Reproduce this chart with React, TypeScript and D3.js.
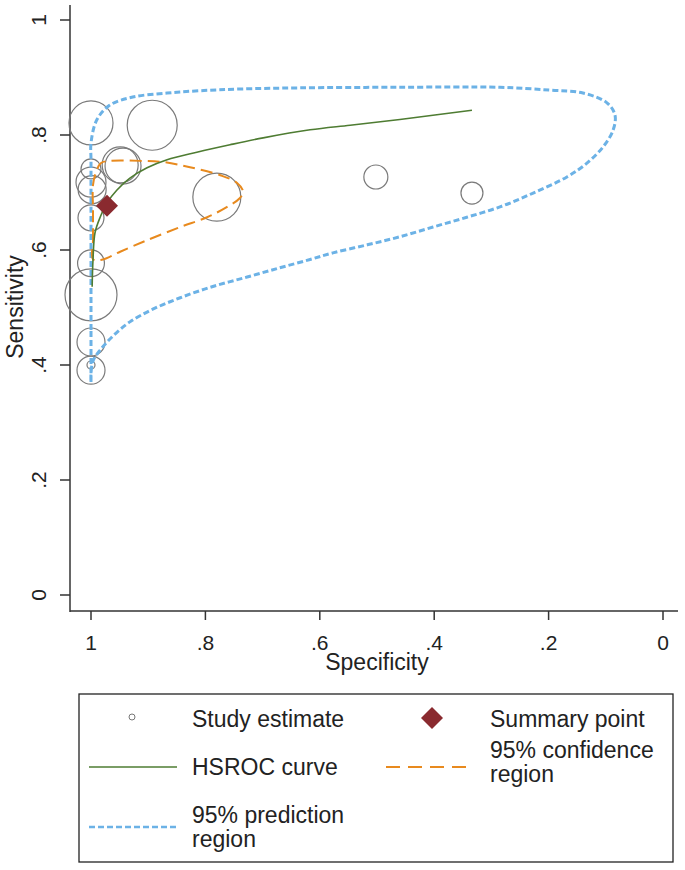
import React from "react";
import * as d3 from "d3";

// ---- data (specificity, sensitivity) ----
const studySpec = [1.0, 0.893, 1.0, 0.949, 0.944, 1.0, 0.998, 1.0, 1.0, 1.0, 1.0, 1.0, 1.0, 0.78, 0.502, 0.334];
const studySens = [0.821, 0.817, 0.741, 0.748, 0.746, 0.718, 0.705, 0.656, 0.577, 0.522, 0.44, 0.391, 0.40, 0.692, 0.727, 0.699];
const studyWeight = [484, 625, 100, 324, 324, 225, 196, 169, 180, 676, 196, 196, 16, 576, 144, 121];

const summarySpec = 0.972;
const summarySens = 0.677;

const hsrocSpec = [0.998, 0.9965, 0.993, 0.984, 0.972, 0.955, 0.932, 0.902, 0.867, 0.815, 0.757, 0.699, 0.617, 0.547, 0.46, 0.334];
const hsrocSens = [0.536, 0.583, 0.63, 0.657, 0.682, 0.704, 0.725, 0.743, 0.757, 0.77, 0.783, 0.795, 0.809, 0.817, 0.827, 0.843];

const confSpec = [0.9965, 0.9965, 0.9965, 0.9965, 0.991, 0.983, 0.967, 0.914, 0.874, 0.827, 0.774, 0.745, 0.734, 0.74, 0.762, 0.797, 0.844, 0.902, 0.949, 0.981];
const confSens = [0.584, 0.617, 0.67, 0.713, 0.736, 0.751, 0.755, 0.755, 0.753, 0.744, 0.73, 0.717, 0.701, 0.69, 0.675, 0.657, 0.64, 0.617, 0.597, 0.583];

const predSpec = [1.0, 1.0, 1.0, 1.0, 1.0, 1.0, 0.99, 0.967, 0.927, 0.867, 0.809, 0.74, 0.635, 0.46, 0.285, 0.198, 0.14, 0.098, 0.084, 0.087, 0.105, 0.133, 0.168, 0.227, 0.285, 0.343, 0.402, 0.46, 0.517, 0.577, 0.617, 0.67, 0.727, 0.787, 0.844, 0.892, 0.932, 0.962, 0.984, 0.9965, 1.0];
const predSens = [0.369, 0.461, 0.565, 0.687, 0.757, 0.786, 0.826, 0.852, 0.866, 0.873, 0.877, 0.88, 0.882, 0.883, 0.883, 0.878, 0.873, 0.856, 0.835, 0.809, 0.779, 0.751, 0.727, 0.699, 0.675, 0.657, 0.64, 0.623, 0.609, 0.595, 0.5835, 0.569, 0.553, 0.5365, 0.517, 0.497, 0.475, 0.45, 0.426, 0.407, 0.385];

const xTicks = [1, 0.8, 0.6, 0.4, 0.2, 0];
const yTicks = [0, 0.2, 0.4, 0.6, 0.8, 1];
const tickLabel = (v: number) => (v === 0 ? "0" : v === 1 ? "1" : d3.format(".1f")(v).replace(/^0/, ""));

const FONT = "'Liberation Sans', Arial, sans-serif";
const BLUE = "#6cb2e6";
const ORANGE = "#e88a1e";
const GREEN = "#4e7c32";
const MAROON = "#8a2a2f";
const AXIS = "#333";

export default function App() {
  const x = d3.scaleLinear().domain([1, 0]).range([91, 663]);
  const y = d3.scaleLinear().domain([0, 1]).range([595, 20]);
  const r = d3.scaleSqrt().domain([0, 676]).range([0, 26]);

  const toPts = (sp: number[], se: number[]) => sp.map((s, i) => [x(s), y(se[i])] as [number, number]);
  const closed = d3.line().curve(d3.curveCatmullRomClosed.alpha(0.5));
  const open = d3.line().curve(d3.curveCatmullRom.alpha(0.5));

  const predPath = closed(toPts(predSpec, predSens)) || "";
  const confPath = closed(toPts(confSpec, confSens)) || "";
  const hsrocPath = open(toPts(hsrocSpec, hsrocSens)) || "";

  const sx = x(summarySpec);
  const sy = y(summarySens);
  const diamond = (cx: number, cy: number, h: number) => `M${cx},${cy - h}L${cx + h},${cy}L${cx},${cy + h}L${cx - h},${cy}Z`;

  const xAxisY = 611;
  const yAxisX = 70;

  return (
    <svg width={685} height={870} style={{ position: "absolute", left: 0, top: 0, background: "#fff" }} fontFamily={FONT}>
      <rect x={0} y={0} width={685} height={870} fill="#fff" />
      {/* axes */}
      <line x1={yAxisX} x2={yAxisX} y1={5} y2={612} stroke={AXIS} strokeWidth={1.5} />
      <line x1={yAxisX} x2={678} y1={xAxisY} y2={xAxisY} stroke={AXIS} strokeWidth={1.5} />
      {yTicks.map((t) => (
        <g key={"y" + t}>
          <line x1={yAxisX - 10} x2={yAxisX} y1={y(t)} y2={y(t)} stroke={AXIS} strokeWidth={1.5} />
          <text transform={`translate(46,${y(t)}) rotate(-90)`} textAnchor="middle" fontSize={21} fill="#222">
            {tickLabel(t)}
          </text>
        </g>
      ))}
      {xTicks.map((t) => (
        <g key={"x" + t}>
          <line x1={x(t)} x2={x(t)} y1={xAxisY} y2={xAxisY + 9} stroke={AXIS} strokeWidth={1.5} />
          <text x={x(t)} y={650} textAnchor="middle" fontSize={21} fill="#222">
            {tickLabel(t)}
          </text>
        </g>
      ))}
      <text x={377} y={670} textAnchor="middle" fontSize={23} fill="#222">Specificity</text>
      <text transform={`translate(23,307) rotate(-90)`} textAnchor="middle" fontSize={23} fill="#222">Sensitivity</text>

      {/* studies */}
      {studySpec.map((s, i) => (
        <circle key={"c" + i} cx={x(s)} cy={y(studySens[i])} r={r(studyWeight[i])} fill="none" stroke="#7a7a7a" strokeWidth={1.2} />
      ))}
      {/* regions */}
      <path d={predPath} fill="none" stroke={BLUE} strokeWidth={3} strokeDasharray="6 3" />
      <path d={confPath} fill="none" stroke={ORANGE} strokeWidth={2} strokeDasharray="12 6" />
      <path d={hsrocPath} fill="none" stroke={GREEN} strokeWidth={1.6} />
      <path d={diamond(sx, sy, 11)} fill={MAROON} />

      {/* legend */}
      <rect x={79} y={694} width={594} height={168} fill="none" stroke="#222" strokeWidth={1.3} />
      <circle cx={132} cy={717} r={3} fill="none" stroke="#777" strokeWidth={1} />
      <text x={192} y={727} fontSize={23} fill="#222">Study estimate</text>
      <path d={diamond(432, 718, 11)} fill={MAROON} />
      <text x={490} y={727} fontSize={23} fill="#222">Summary point</text>
      <line x1={89} x2={177} y1={767} y2={767} stroke={GREEN} strokeWidth={1.6} />
      <text x={192} y={775} fontSize={23} fill="#222">HSROC curve</text>
      <line x1={386} x2={467} y1={767} y2={767} stroke={ORANGE} strokeWidth={2} strokeDasharray="14 8" />
      <text x={490} y={758} fontSize={23} fill="#222">95% confidence</text>
      <text x={490} y={782} fontSize={23} fill="#222">region</text>
      <line x1={89} x2={178} y1={827} y2={827} stroke={BLUE} strokeWidth={2.5} strokeDasharray="6 3" />
      <text x={192} y={823} fontSize={23} fill="#222">95% prediction</text>
      <text x={192} y={847} fontSize={23} fill="#222">region</text>
    </svg>
  );
}
